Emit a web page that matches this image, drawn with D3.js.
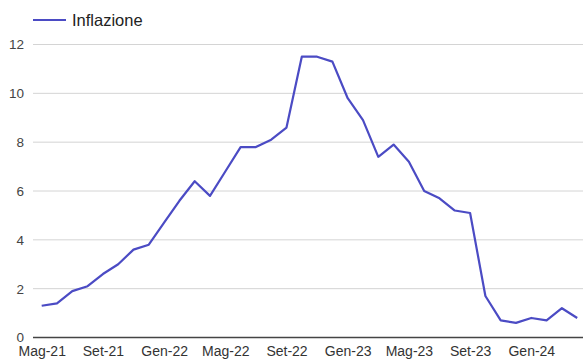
<!DOCTYPE html>
<html>
<head>
<meta charset="utf-8">
<script src="https://cdn.jsdelivr.net/npm/d3@7"></script>
<style>
  html, body { margin: 0; padding: 0; background: #fff; }
  svg { display: block; font-family: "Liberation Sans", Arial, sans-serif; }
</style>
</head>
<body>
<svg id="chart" width="583" height="360"></svg>
<script>
const months = [
  "Mag-21","Giu-21","Lug-21","Ago-21","Set-21","Ott-21","Nov-21","Dic-21",
  "Gen-22","Feb-22","Mar-22","Apr-22","Mag-22","Giu-22","Lug-22","Ago-22",
  "Set-22","Ott-22","Nov-22","Dic-22","Gen-23","Feb-23","Mar-23","Apr-23",
  "Mag-23","Giu-23","Lug-23","Ago-23","Set-23","Ott-23","Nov-23","Dic-23",
  "Gen-24","Feb-24","Mar-24","Apr-24"
];
const inflazione = [
  1.3, 1.4, 1.9, 2.1, 2.6, 3.0, 3.6, 3.8,
  4.7, 5.6, 6.4, 5.8, 6.8, 7.8, 7.8, 8.1,
  8.6, 11.5, 11.5, 11.3, 9.8, 8.9, 7.4, 7.9,
  7.2, 6.0, 5.7, 5.2, 5.1, 1.7, 0.7, 0.6,
  0.8, 0.7, 1.2, 0.8
];
const xTickLabels = ["Mag-21","Set-21","Gen-22","Mag-22","Set-22","Gen-23","Mag-23","Set-23","Gen-24"];
const yTicks = [0, 2, 4, 6, 8, 10, 12];
const seriesName = "Inflazione";

const svg = d3.select("#chart");
const plotLeft = 33, plotRight = 583;
const lineColor = "#4b4bc4";

const x = d3.scalePoint().domain(months).range([41.7, 577.2]);
const y = d3.scaleLinear().domain([0, 12]).range([337.5, 44.5]);

// gridlines
svg.append("g").selectAll("line")
  .data(yTicks.filter(d => d !== 0))
  .join("line")
  .attr("x1", plotLeft).attr("x2", plotRight)
  .attr("y1", d => y(d)).attr("y2", d => y(d))
  .attr("stroke", "#d4d4d4").attr("stroke-width", 1);

// y labels
svg.append("g").selectAll("text")
  .data(yTicks)
  .join("text")
  .attr("x", 24).attr("y", d => y(d))
  .attr("dy", "0.36em")
  .attr("text-anchor", "end")
  .attr("font-size", 13.5)
  .attr("fill", "#444")
  .text(d => d);

// x axis
const xAxis = d3.axisBottom(x).tickValues(xTickLabels).tickSize(0).tickPadding(9);
const gx = svg.append("g").attr("transform", `translate(0,${y(0)})`).call(xAxis);
gx.select(".domain").remove();
gx.selectAll("text").attr("font-size", 14).attr("fill", "#333")
  .attr("font-family", "Liberation Sans, Arial, sans-serif");

svg.append("line")
  .attr("x1", plotLeft).attr("x2", plotRight)
  .attr("y1", y(0)).attr("y2", y(0))
  .attr("stroke", "#444").attr("stroke-width", 1.3);

// line
const line = d3.line()
  .x((d, i) => x(months[i]))
  .y(d => y(d));
svg.append("path")
  .datum(inflazione)
  .attr("d", line)
  .attr("fill", "none")
  .attr("stroke", lineColor)
  .attr("stroke-width", 2.2)
  .attr("stroke-linejoin", "round");

// legend
svg.append("line")
  .attr("x1", 33).attr("x2", 66).attr("y1", 20).attr("y2", 20)
  .attr("stroke", lineColor).attr("stroke-width", 2.2);
svg.append("text")
  .attr("x", 72).attr("y", 26)
  .attr("font-size", 16.5).attr("fill", "#222")
  .text(seriesName);
</script>
</body>
</html>
